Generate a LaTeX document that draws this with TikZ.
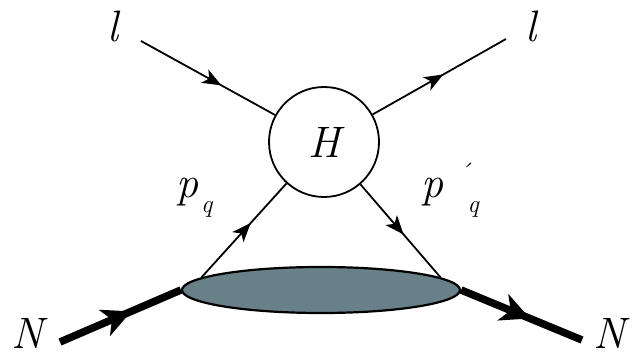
\documentclass[tikz,border=0pt]{standalone}
\usetikzlibrary{arrows.meta,decorations.markings,shapes.geometric}

\definecolor{blobgray}{RGB}{104,128,135}

\newcommand*{\bigit}{\fontsize{44}{44}\selectfont\itshape}
\newcommand*{\subit}{\fontsize{25}{25}\selectfont\itshape}

\begin{document}
\begin{tikzpicture}
[
	x=1pt,
	y=1pt,
	fermion/.style={line width=1.8pt,postaction={decorate},
		decoration={markings,mark=at position #1 with {\arrow{Stealth[length=19pt,width=15pt,inset=5pt]}}}},
	fermion/.default=0.57,
	nucleon/.style={line width=7.5pt,postaction={decorate},
		decoration={markings,mark=at position #1 with {\arrow{Stealth[length=29pt,width=28pt,inset=8pt]}}}},
	nucleon/.default=0.58,
	lbl/.style={inner sep=0pt}
]

	\useasboundingbox (0,0) rectangle (632,356);

	% hard part and soft blob
	\node[circle,draw,line width=1.8pt,minimum size=110pt,inner sep=0pt] (H) at (324,214) {\bigit H};
	\node[ellipse,draw,fill=blobgray,line width=2.2pt,minimum width=278pt,minimum height=46pt,inner sep=0pt] (blob) at (321,66) {};

	% external legs
	\coordinate (lin) at (141,315);
	\coordinate (lout) at (506,317);
	\coordinate (Nin) at (60,14);
	\coordinate (Nout) at (582,16);

	\draw[fermion=0.6] (lin) -- (H);
	\draw[fermion=0.53] (H) -- (lout);
	\draw[fermion=0.58] (blob.174) -- (H);
	\draw[fermion=0.54] (H) -- (blob.6);
	\draw[nucleon=0.59] (Nin) -- (blob.west);
	\draw[nucleon=0.57] (blob.east) -- (Nout);

	% labels
	\node[lbl] (lleft) at (113,330) {\bigit l};
	\node[lbl] (lright) at (531,330) {\bigit l};
	\node[lbl] (Nleft) at (27,23) {\bigit N};
	\node[lbl] (Nright) at (609,23) {\bigit N};
	\node[lbl,anchor=base west] (pq) at (176,158) {\bigit p\hspace{3pt}\raisebox{-15pt}{\subit q}};
	\node[lbl,anchor=base west] (pqprime) at (421,158) {\bigit p\kern15pt\raisebox{17pt}{\subit\textasciiacute}\kern-3pt\raisebox{-15pt}{\subit q}};

\end{tikzpicture}
\end{document}
